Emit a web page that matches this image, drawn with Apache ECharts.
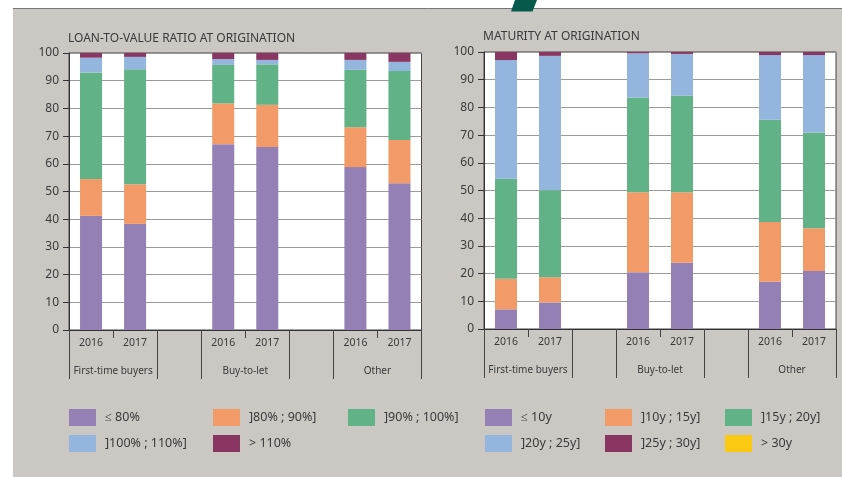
<!DOCTYPE html>
<html>
<head>
<meta charset="utf-8">
<script src="https://cdn.jsdelivr.net/npm/echarts@6/dist/echarts.min.js"></script>
<style>
html,body{margin:0;padding:0;background:#fff;}
#chart{width:842px;height:477px;}
</style>
</head>
<body>
<div id="chart"></div>
<script>
// ---- data ----
const categories = ['2016', '2017', '', '2016', '2017', '', '2016', '2017'];
const groups = ['First-time buyers', 'Buy-to-let', 'Other'];
const groupPos = [1, 4, 7];
const dividerPos = [0, 2, 3, 5, 6, 8];

const ltvNames = ['≤ 80%', ']80% ; 90%]', ']90% ; 100%]', ']100% ; 110%]', '> 110%'];
const ltvLe80    = [41.2, 38.3, null, 67.1, 66.1, null, 58.8, 53.0];
const ltv80to90  = [13.3, 14.3, null, 14.7, 15.2, null, 14.4, 15.6];
const ltv90to100 = [38.5, 41.5, null, 13.9, 14.6, null, 20.8, 24.9];
const ltv100to110= [5.3, 4.5, null, 2.1, 1.6, null, 3.5, 3.3];
const ltvGt110   = [1.7, 1.4, null, 2.2, 2.5, null, 2.5, 3.2];

const matNames = ['≤ 10y', ']10y ; 15y]', ']15y ; 20y]', ']20y ; 25y]', ']25y ; 30y]', '> 30y'];
const matLe10   = [7.1, 9.6, null, 20.5, 23.9, null, 17.1, 20.9];
const mat10to15 = [11.0, 9.1, null, 28.9, 25.5, null, 21.5, 15.5];
const mat15to20 = [36.1, 31.4, null, 34.2, 34.8, null, 36.9, 34.5];
const mat20to25 = [42.9, 48.5, null, 15.9, 15.1, null, 23.4, 28.0];
const mat25to30 = [2.9, 1.4, null, 0.5, 0.7, null, 1.1, 1.1];
const matGt30   = [0, 0, null, 0, 0, null, 0, 0];

const colors = ['#9580b6', '#f39a69', '#62b287', '#93b5de', '#8a3662', '#fbc912'];

// ---- chart ----
const FONT = 'Noto Sans';
const TXT = '#3a3a3a';
const chart = echarts.init(document.getElementById('chart'), null, {renderer: 'canvas'});

const grids = [
  {left: 69, top: 53, width: 352.5, height: 277},
  {left: 484, top: 52, width: 352, height: 277}
];

function xAxesFor(gi) {
  return [
    {
      type: 'category', gridIndex: gi, data: categories, position: 'bottom',
      axisLine: {show: true, lineStyle: {color: '#333', width: 1}},
      axisTick: {show: false},
      axisLabel: {color: TXT, fontFamily: FONT, fontSize: 10.5, margin: 8, interval: 0}
    },
    {
      type: 'value', gridIndex: gi, min: 0, max: 8, position: 'bottom',
      axisLine: {show: false}, splitLine: {show: false},
      axisTick: {show: true, customValues: dividerPos, length: 49, lineStyle: {color: '#444'}},
      axisLabel: {show: true, customValues: groupPos, margin: 36, color: TXT, fontFamily: FONT, fontSize: 10,
        formatter: function (v) { const i = groupPos.indexOf(Math.round(v)); return i >= 0 ? groups[i] : ''; }}
    },
    {
      type: 'value', gridIndex: gi, min: 0, max: 8, position: 'bottom',
      axisLine: {show: false}, splitLine: {show: false},
      axisTick: {show: true, customValues: groupPos, length: 8, lineStyle: {color: '#444'}},
      axisLabel: {show: false}
    }
  ];
}

function yAxisFor(gi) {
  return {
    type: 'value', gridIndex: gi, min: 0, max: 100, interval: 10,
    axisLine: {show: true, lineStyle: {color: '#333'}},
    axisTick: {show: true, length: 6, lineStyle: {color: '#333'}},
    axisLabel: {color: TXT, fontFamily: FONT, fontSize: 12, margin: 10},
    splitLine: {show: true, lineStyle: {color: '#9a9a9a', width: 1}}
  };
}

const series = [];
const ltvData = [ltvLe80, ltv80to90, ltv90to100, ltv100to110, ltvGt110];
ltvData.forEach(function (d, i) {
  series.push({name: ltvNames[i], type: 'bar', stack: 'ltv', xAxisIndex: 0, yAxisIndex: 0,
    data: d, barWidth: '50%', itemStyle: {color: colors[i]}});
});
const matData = [matLe10, mat10to15, mat15to20, mat20to25, mat25to30, matGt30];
matData.forEach(function (d, i) {
  series.push({name: matNames[i], type: 'bar', stack: 'mat', xAxisIndex: 3, yAxisIndex: 1,
    data: d, barWidth: '50%', itemStyle: {color: colors[i]}});
});

function legendCol(names, left) {
  return {
    data: names, left: left, top: 409, orient: 'vertical', padding: 0,
    itemWidth: 27, itemHeight: 17, itemGap: 9, icon: 'rect', selectedMode: false,
    textStyle: {color: TXT, fontFamily: FONT, fontSize: 12.5, padding: [0, 0, 0, 4]}
  };
}

chart.setOption({
  animation: false,
  backgroundColor: '#ffffff',
  graphic: [
    {type: 'rect', z: -100, silent: true, shape: {x: 13, y: 8, width: 829, height: 469}, style: {fill: '#cbc8c3'}},
    {type: 'line', z: -99, silent: true, shape: {x1: 13, y1: 8.5, x2: 842, y2: 8.5}, style: {stroke: '#777', lineWidth: 1}},
    {type: 'polygon', z: 100, silent: true, shape: {points: [[515, 0], [537, 0], [532.5, 11.5], [511, 11.5]]}, style: {fill: '#07594c'}}
  ],
  title: [
    {text: 'LOAN-TO-VALUE RATIO AT ORIGINATION', left: 68, top: 33, padding: 0,
      textStyle: {color: TXT, fontFamily: FONT, fontSize: 12, fontWeight: 'normal'}},
    {text: 'MATURITY AT ORIGINATION', left: 483, top: 31, padding: 0,
      textStyle: {color: TXT, fontFamily: FONT, fontSize: 12, fontWeight: 'normal'}}
  ],
  legend: [
    legendCol([ltvNames[0], ltvNames[3]], 69),
    legendCol([ltvNames[1], ltvNames[4]], 213),
    legendCol([ltvNames[2]], 348),
    legendCol([matNames[0], matNames[3]], 485),
    legendCol([matNames[1], matNames[4]], 605),
    legendCol([matNames[2], matNames[5]], 725)
  ],
  grid: grids.map(function (g) {
    return Object.assign({show: true, backgroundColor: '#ffffff', borderColor: '#444', borderWidth: 1}, g);
  }),
  xAxis: xAxesFor(0).concat(xAxesFor(1)),
  yAxis: [yAxisFor(0), yAxisFor(1)],
  series: series
});
</script>
</body>
</html>
